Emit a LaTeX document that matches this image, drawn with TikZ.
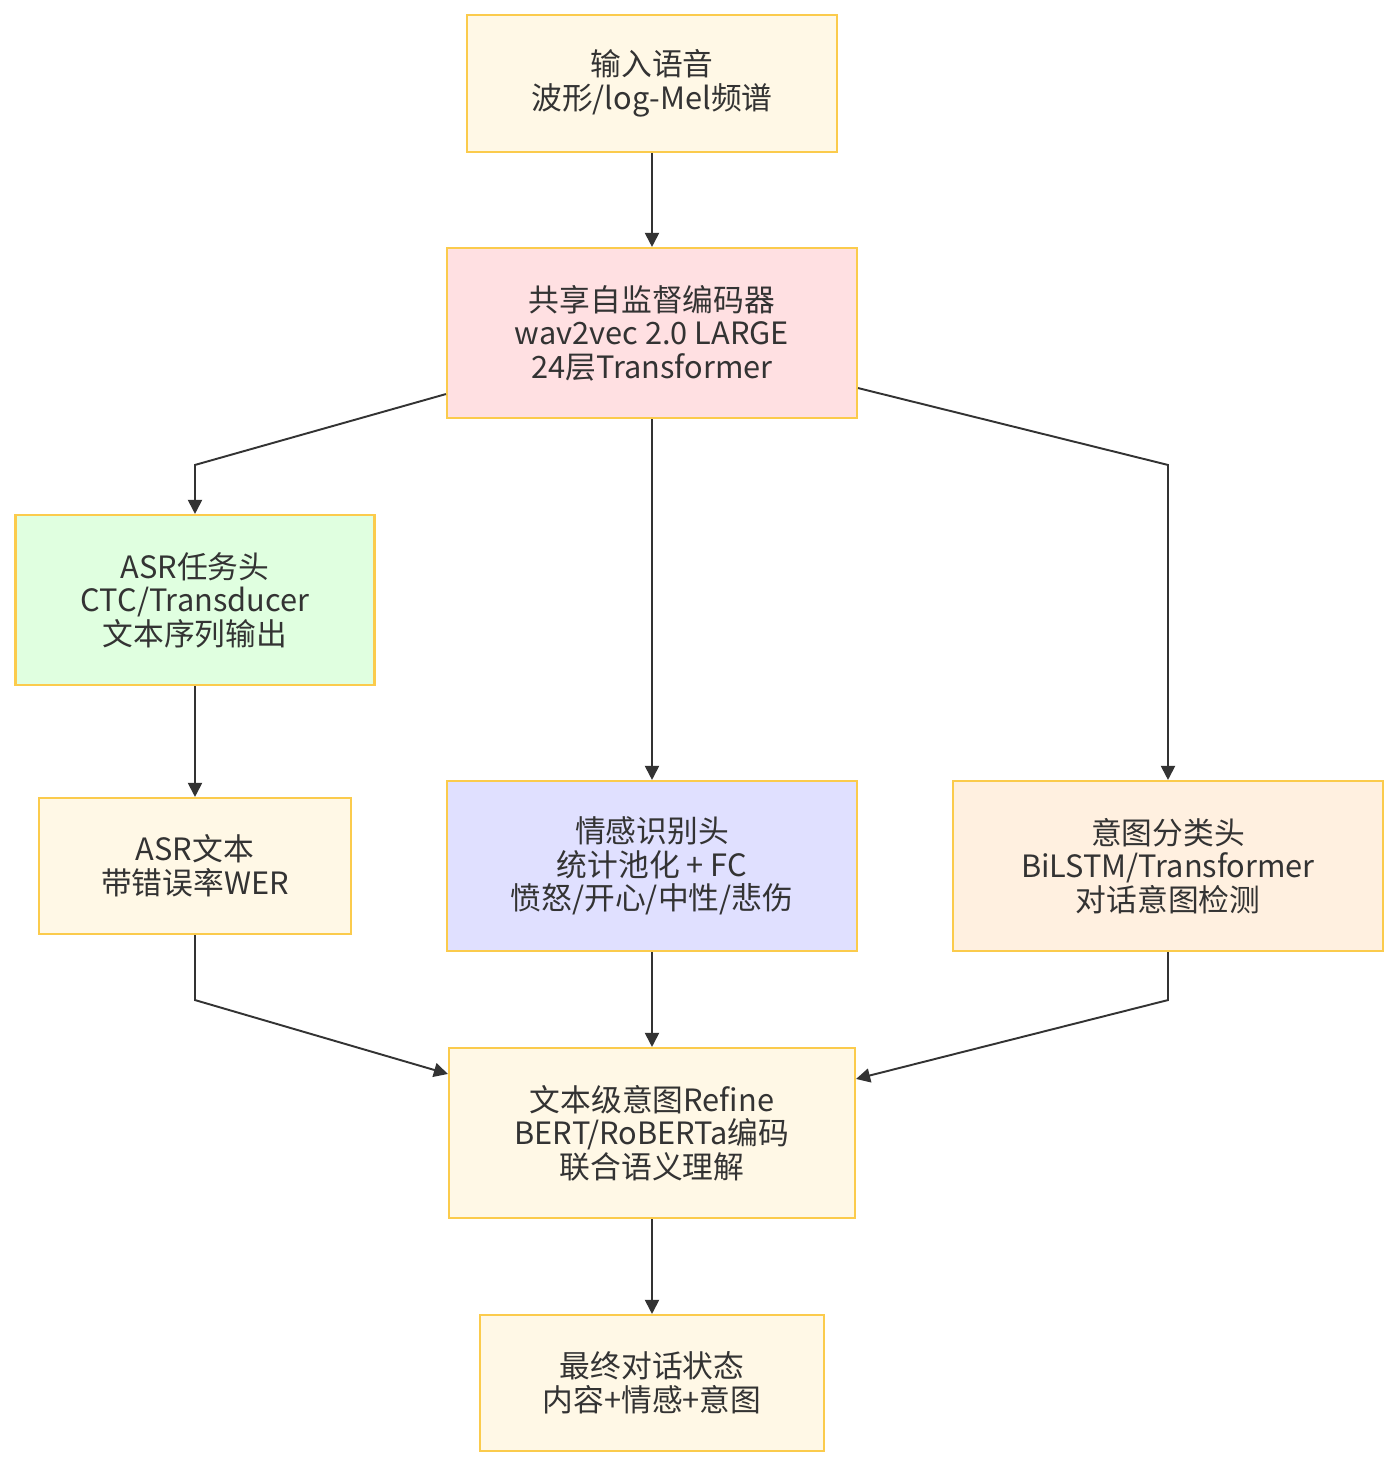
\documentclass[tikz,border=0pt]{standalone}
\usepackage{xcolor}
\usepackage{fontspec}
\setmainfont{Noto Sans CJK SC}
\usepackage{tikz}
\usetikzlibrary{arrows.meta, positioning, calc}

\definecolor{edgeC}{HTML}{333333}
\definecolor{lineY}{HTML}{FBCB4C}
\definecolor{creamF}{HTML}{FFF8E6}
\definecolor{pinkF}{HTML}{FFE0E2}
\definecolor{greenF}{HTML}{E0FFE0}
\definecolor{lilacF}{HTML}{E0E0FF}
\definecolor{peachF}{HTML}{FFF0E0}

\tikzset{
  box/.style={draw=lineY, line width=1.2pt, fill=creamF, align=center, inner sep=0pt,
    text=edgeC, font=\fontsize{17.5}{19.1}\selectfont},
  link/.style={->, draw=edgeC, line width=1.1pt}
}

\begin{document}
\begin{tikzpicture}[>={Triangle[length=8pt,width=8pt]}]
        \useasboundingbox (0,0) rectangle (27.96,-29.32);
        \node[box, minimum width=7.4cm, minimum height=2.74cm] (inp) at (13.04,-1.67) {输入语音\\波形/log-Mel频谱};
        \node[box, fill=pinkF, minimum width=8.2cm, minimum height=3.4cm] (enc) at (13.04,-6.66) {共享自监督编码器\\wav2vec 2.0 LARGE\\24层Transformer};
        \node[box, fill=greenF, minimum width=7.18cm, minimum height=3.4cm] (asr) at (3.9,-12.0) {ASR任务头\\CTC/Transducer\\文本序列输出};
        \node[box, minimum width=6.24cm, minimum height=2.72cm] (asrtxt) at (3.9,-17.32) {ASR文本\\带错误率WER};
        \node[box, fill=lilacF, minimum width=8.2cm, minimum height=3.4cm] (emo) at (13.04,-17.32) {情感识别头\\统计池化 + FC\\愤怒/开心/中性/悲伤};
        \node[box, fill=peachF, minimum width=8.6cm, minimum height=3.4cm] (intent) at (23.36,-17.32) {意图分类头\\BiLSTM/Transformer\\对话意图检测};
        \node[box, minimum width=8.12cm, minimum height=3.4cm] (refine) at (13.04,-22.66) {文本级意图Refine\\BERT/RoBERTa编码\\联合语义理解};
        \node[box, minimum width=6.88cm, minimum height=2.72cm] (final) at (13.04,-27.66) {最终对话状态\\内容+情感+意图};

        \coordinate (bendL) at ($(asr.north)+(0,0.98)$);
        \coordinate (bendLL) at ($(asrtxt.south)+(0,-1.3)$);

        \draw[link] (inp) -- (enc);
        \draw[link] ($(enc.south west)+(0,0.5)$) -- (bendL) -- (asr.north);
        \draw[link] (enc) -- (emo);
        \draw[link] ($(enc.south east)+(0,0.62)$) -- (intent.north |- bendL) -- (intent.north);
        \draw[link] (asr) -- (asrtxt);
        \draw[link] (asrtxt.south) -- (bendLL) -- ($(refine.north west)+(0,-0.54)$);
        \draw[link] (emo) -- (refine);
        \draw[link] (intent.south) -- (intent.south |- bendLL) -- ($(refine.north east)+(0,-0.64)$);
        \draw[link] (refine) -- (final);
    \end{tikzpicture}
\end{document}
